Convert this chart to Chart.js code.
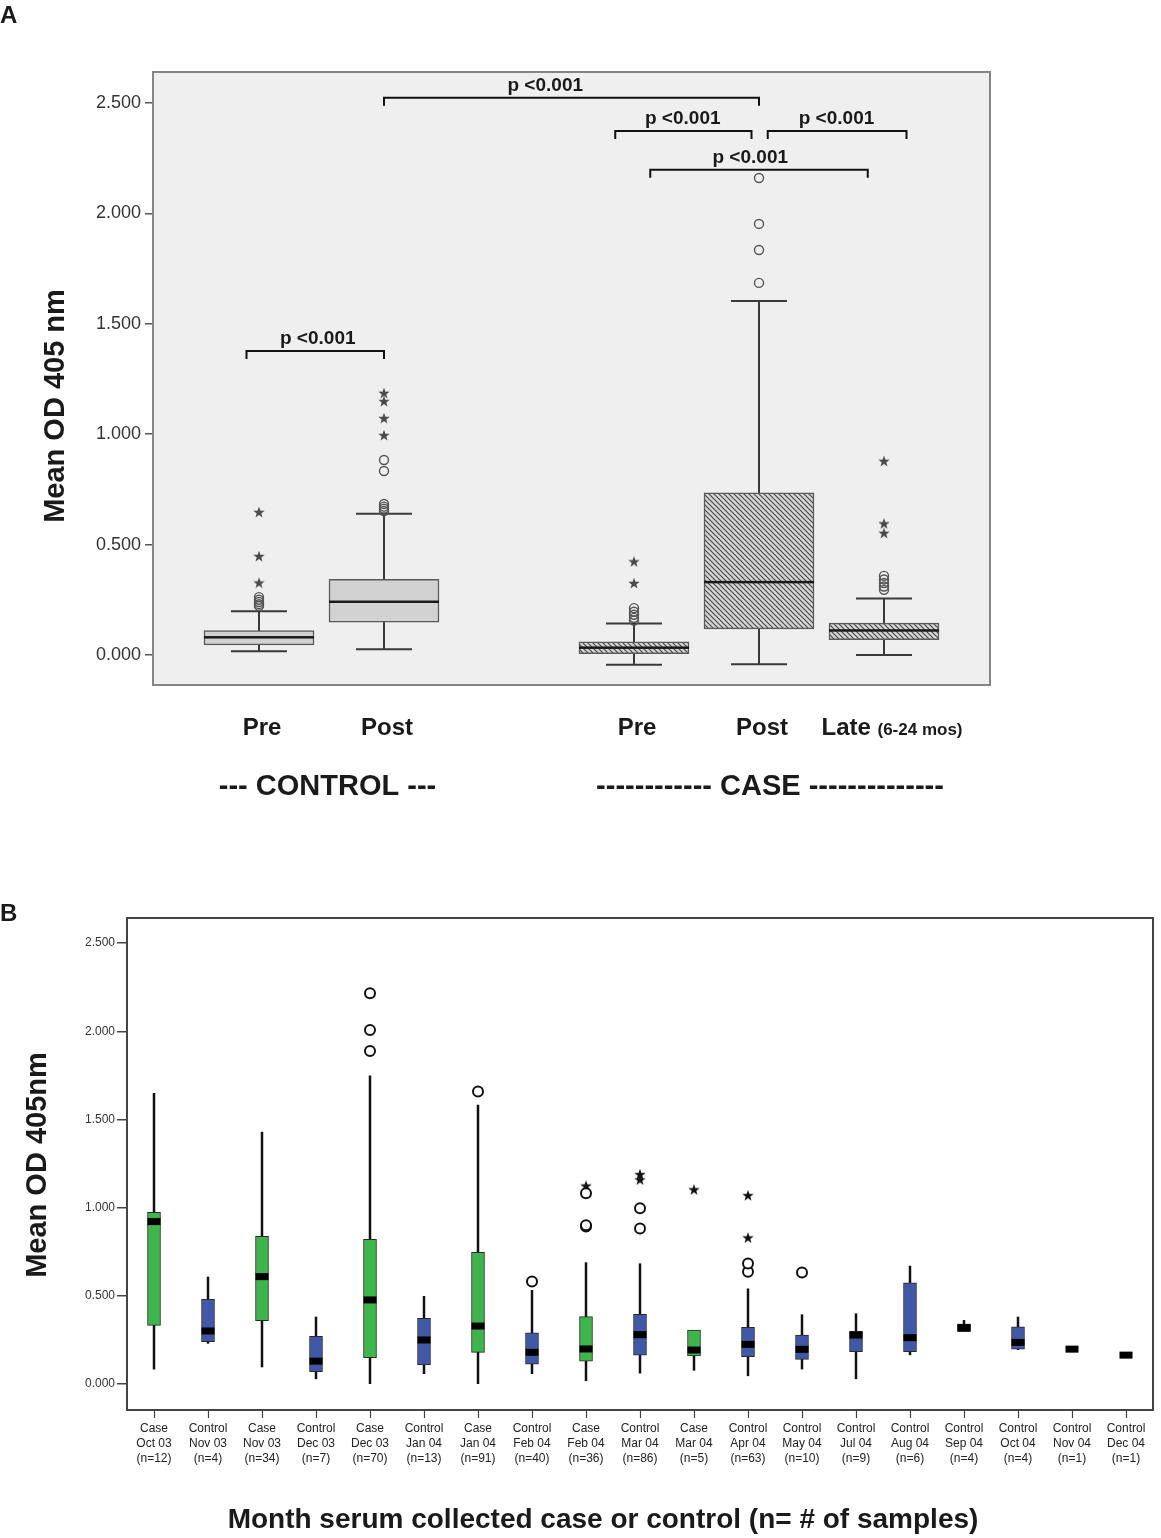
<!DOCTYPE html>
<html>
<head>
<meta charset="utf-8">
<script src="https://cdn.jsdelivr.net/npm/chart.js@4.4.1/dist/chart.umd.min.js"></script>
<style>
html, body { margin: 0; padding: 0; background: #fff; }
#wrapA { position: absolute; left: 0; top: 0; width: 1161px; height: 830px; }
#wrapB { position: absolute; left: 0; top: 830px; width: 1161px; height: 708px; }
</style>
</head>
<body>
<div id="wrapA"><canvas id="chartA" width="1161" height="830"></canvas></div>
<div id="wrapB"><canvas id="chartB" width="1161" height="708"></canvas></div>
<script>
var FONT = "'Liberation Sans', Arial, Helvetica, sans-serif";

// ---- panel A : mean OD, control vs case ----
var aSlots = ['Pre', 'Post', '', 'Pre', 'Post', 'Late'];
var aSlotIndex = [0, 1, 3, 4, 5];
var aGroups = ['control', 'control', 'case', 'case', 'case'];
var aLow = [0.017, 0.026, -0.044, -0.042, 0.000];
var aQ1 = [0.046, 0.148, 0.006, 0.118, 0.069];
var aMedian = [0.080, 0.241, 0.033, 0.330, 0.111];
var aQ3 = [0.111, 0.343, 0.059, 0.734, 0.144];
var aHigh = [0.198, 0.639, 0.143, 1.603, 0.256];
var aCircles = [
    [0.262, 0.250, 0.240, 0.230, 0.222],
    [0.684, 0.672, 0.662, 0.652, 0.883, 0.833],
    [0.212, 0.196, 0.182, 0.168, 0.156],
    [2.160, 1.952, 1.834, 1.685],
    [0.358, 0.342, 0.326, 0.310, 0.295]
];
var aStars = [
    [0.648, 0.448, 0.328],
    [1.187, 1.150, 1.073, 0.996],
    [0.424, 0.326],
    [],
    [0.879, 0.596, 0.553]
];
var aTicks = [0, 0.5, 1, 1.5, 2, 2.5];
var aBrackets = [
    { from: -0.1, to: 1.0, y: 1.377, at: 0.47, text: 'p <0.001' },
    { from: 1.0, to: 4.0, y: 2.523, at: 2.29, text: 'p <0.001' },
    { from: 2.85, to: 3.94, y: 2.373, at: 3.39, text: 'p <0.001' },
    { from: 4.07, to: 5.18, y: 2.373, at: 4.62, text: 'p <0.001' },
    { from: 3.13, to: 4.87, y: 2.197, at: 3.93, text: 'p <0.001' }
];

// ---- panel B : by month ----
var bLabels = [
    ['Case', 'Oct 03', '(n=12)'], ['Control', 'Nov 03', '(n=4)'], ['Case', 'Nov 03', '(n=34)'],
    ['Control', 'Dec 03', '(n=7)'], ['Case', 'Dec 03', '(n=70)'], ['Control', 'Jan 04', '(n=13)'],
    ['Case', 'Jan 04', '(n=91)'], ['Control', 'Feb 04', '(n=40)'], ['Case', 'Feb 04', '(n=36)'],
    ['Control', 'Mar 04', '(n=86)'], ['Case', 'Mar 04', '(n=5)'], ['Control', 'Apr 04', '(n=63)'],
    ['Control', 'May 04', '(n=10)'], ['Control', 'Jul 04', '(n=9)'], ['Control', 'Aug 04', '(n=6)'],
    ['Control', 'Sep 04', '(n=4)'], ['Control', 'Oct 04', '(n=4)'], ['Control', 'Nov 04', '(n=1)'],
    ['Control', 'Dec 04', '(n=1)']
];
var bLow = [0.083, 0.229, 0.095, 0.028, 0.000, 0.057, 0.000, 0.057, 0.017, 0.060, 0.076, 0.045, 0.083, 0.028, 0.164, 0.297, 0.193, 0.198, 0.164];
var bQ1 = [0.333, 0.240, 0.359, 0.070, 0.149, 0.108, 0.180, 0.113, 0.130, 0.164, 0.159, 0.155, 0.140, 0.183, 0.183, 0.297, 0.198, 0.198, 0.164];
var bMedian = [0.921, 0.301, 0.609, 0.130, 0.477, 0.250, 0.329, 0.180, 0.199, 0.280, 0.193, 0.225, 0.197, 0.278, 0.263, 0.321, 0.236, 0.198, 0.164];
var bQ3 = [0.974, 0.480, 0.838, 0.270, 0.821, 0.373, 0.747, 0.291, 0.382, 0.395, 0.306, 0.321, 0.278, 0.299, 0.574, 0.340, 0.325, 0.198, 0.164];
var bHigh = [1.650, 0.609, 1.430, 0.382, 1.749, 0.499, 1.583, 0.533, 0.690, 0.684, 0.306, 0.542, 0.395, 0.401, 0.671, 0.363, 0.382, 0.198, 0.164];
var bCircles = [[], [], [], [], [2.216, 2.007, 1.888], [], [1.658], [0.581], [0.893, 0.900, 1.082],
    [0.882, 0.996], [], [0.637, 0.684], [0.633], [], [], [], [], [], []];
var bStars = [[], [], [], [], [], [], [], [], [1.125], [1.190, 1.160], [1.104], [0.831, 1.071], [], [], [], [], [], [], []];
var bTicks = [0, 0.5, 1, 1.5, 2, 2.5];

function makeStar(size, color) {
    var c = document.createElement('canvas');
    c.width = size; c.height = size;
    var g = c.getContext('2d');
    g.fillStyle = color;
    g.beginPath();
    for (var i = 0; i < 10; i++) {
        var r = i % 2 ? size * 0.2 : size * 0.5;
        var ang = -Math.PI / 2 + i * Math.PI / 5;
        var px = size / 2 + r * Math.cos(ang), py = size / 2 + size * 0.06 + r * Math.sin(ang);
        if (i) g.lineTo(px, py); else g.moveTo(px, py);
    }
    g.closePath();
    g.fill();
    return c;
}

function makeHatch(ctx) {
    var c = document.createElement('canvas');
    c.width = 5; c.height = 5;
    var g = c.getContext('2d');
    g.fillStyle = '#d6d6d6';
    g.fillRect(0, 0, 5, 5);
    g.strokeStyle = '#4a4a4a';
    g.lineWidth = 1.2;
    g.beginPath();
    g.moveTo(-1, -1); g.lineTo(6, 6);
    g.moveTo(-1, 4); g.lineTo(1, 6);
    g.moveTo(4, -1); g.lineTo(6, 1);
    g.stroke();
    return ctx.createPattern(c, 'repeat');
}

function points(xs, lists) {
    var out = [];
    lists.forEach(function (vals, i) {
        vals.forEach(function (v) { out.push({ x: xs[i], y: v }); });
    });
    return out;
}

// whiskers under the boxes, medians on top
var boxParts = {
    id: 'boxParts',
    beforeDatasetsDraw: function (chart, args, o) {
        var ctx = chart.ctx, xs = chart.scales.x, ys = chart.scales.y;
        ctx.save();
        ctx.strokeStyle = o.stemColor;
        ctx.lineWidth = o.stemWidth;
        o.xs.forEach(function (xv, i) {
            var x = xs.getPixelForValue(xv);
            var yl = ys.getPixelForValue(o.low[i]), yh = ys.getPixelForValue(o.high[i]);
            ctx.beginPath();
            ctx.moveTo(x, yl); ctx.lineTo(x, yh);
            if (o.capWidth) {
                ctx.moveTo(x - o.capWidth / 2, yl); ctx.lineTo(x + o.capWidth / 2, yl);
                ctx.moveTo(x - o.capWidth / 2, yh); ctx.lineTo(x + o.capWidth / 2, yh);
            }
            ctx.stroke();
        });
        ctx.restore();
    },
    afterDatasetsDraw: function (chart, args, o) {
        var ctx = chart.ctx, xs = chart.scales.x, ys = chart.scales.y;
        ctx.save();
        ctx.fillStyle = o.medColor;
        o.xs.forEach(function (xv, i) {
            var x = xs.getPixelForValue(xv), y = ys.getPixelForValue(o.median[i]);
            ctx.fillRect(x - o.medWidth / 2, y - o.medHeight / 2, o.medWidth, o.medHeight);
        });
        ctx.restore();
    }
};

var frame = {
    id: 'frame',
    beforeDraw: function (chart, args, o) {
        var a = chart.chartArea, ctx = chart.ctx;
        ctx.save();
        ctx.fillStyle = o.fill;
        ctx.fillRect(a.left, a.top, a.right - a.left, a.bottom - a.top);
        ctx.restore();
    },
    afterDraw: function (chart, args, o) {
        var a = chart.chartArea, ctx = chart.ctx;
        ctx.save();
        ctx.strokeStyle = o.stroke;
        ctx.lineWidth = 2;
        ctx.strokeRect(a.left, a.top, a.right - a.left, a.bottom - a.top);
        ctx.restore();
    }
};

function text(ctx, s, x, y, font, align, rot) {
    ctx.save();
    ctx.font = font;
    ctx.fillStyle = '#1a1a1a';
    ctx.textAlign = align || 'center';
    ctx.textBaseline = 'middle';
    ctx.translate(x, y);
    if (rot) ctx.rotate(rot);
    ctx.fillText(s, 0, 0);
    ctx.restore();
}

var aText = {
    id: 'aText',
    afterDraw: function (chart) {
        var ctx = chart.ctx, xs = chart.scales.x, ys = chart.scales.y;
        text(ctx, 'A', 0, 16, 'bold 24px ' + FONT, 'left');
        text(ctx, 'Mean OD 405 nm', 56, 406, 'bold 29px ' + FONT, 'center', -Math.PI / 2);
        aSlots.forEach(function (s, i) {
            if (!s || s === 'Late') return;
            text(ctx, s, xs.getPixelForValue(i) + 3, 728, 'bold 24px ' + FONT);
        });
        // Late with the smaller note
        var lateX = xs.getPixelForValue(aSlots.indexOf('Late'));
        ctx.save();
        ctx.font = 'bold 24px ' + FONT;
        var w1 = ctx.measureText('Late ').width;
        ctx.font = 'bold 17px ' + FONT;
        var w2 = ctx.measureText('(6-24 mos)').width;
        ctx.restore();
        var start = lateX - (w1 + w2) / 2 + 8;
        text(ctx, 'Late', start, 728, 'bold 24px ' + FONT, 'left');
        text(ctx, '(6-24 mos)', start + w1, 730, 'bold 17px ' + FONT, 'left');
        text(ctx, '--- CONTROL ---', (xs.getPixelForValue(0) + xs.getPixelForValue(1)) / 2 + 6, 787, 'bold 29px ' + FONT);
        text(ctx, '------------ CASE --------------', xs.getPixelForValue(4) + 11, 787, 'bold 29px ' + FONT);

        ctx.save();
        ctx.strokeStyle = '#111';
        ctx.lineWidth = 2;
        aBrackets.forEach(function (b) {
            var x1 = xs.getPixelForValue(b.from), x2 = xs.getPixelForValue(b.to), y = ys.getPixelForValue(b.y);
            ctx.beginPath();
            ctx.moveTo(x1, y + 8); ctx.lineTo(x1, y); ctx.lineTo(x2, y); ctx.lineTo(x2, y + 8);
            ctx.stroke();
            text(ctx, b.text, xs.getPixelForValue(b.at), y - 12, 'bold 19px ' + FONT);
        });
        ctx.restore();
    }
};

var bText = {
    id: 'bText',
    afterDraw: function (chart) {
        var ctx = chart.ctx, xs = chart.scales.x, a = chart.chartArea;
        // small tick marks under each category
        ctx.save();
        ctx.strokeStyle = '#444';
        ctx.lineWidth = 1.2;
        bLabels.forEach(function (l, i) {
            var x = Math.round(xs.getPixelForValue(i)) + 0.5;
            ctx.beginPath();
            ctx.moveTo(x, a.bottom);
            ctx.lineTo(x, a.bottom + 8);
            ctx.stroke();
        });
        ctx.restore();
        text(ctx, 'B', 0, 84, 'bold 24px ' + FONT, 'left');
        text(ctx, 'Mean OD 405nm', 38, 335, 'bold 29px ' + FONT, 'center', -Math.PI / 2);
        text(ctx, 'Month serum collected case or control (n= # of samples)', 603, 690, 'bold 28px ' + FONT);
    }
};

Chart.defaults.font.family = FONT;
Chart.defaults.color = '#222';

// ---- chart A ----
var ctxA = document.getElementById('chartA').getContext('2d');
var hatch = makeHatch(ctxA);
var starA = makeStar(12, '#4a4a4a');
new Chart(ctxA, {
    type: 'bar',
    data: {
        datasets: [{
            type: 'line',
            data: points(aSlotIndex, aCircles),
            showLine: false,
            pointStyle: 'circle',
            pointRadius: 4.5,
            pointBackgroundColor: 'rgba(0,0,0,0)',
            pointBorderColor: '#555',
            pointBorderWidth: 1.4
        }, {
            type: 'line',
            data: points(aSlotIndex, aStars),
            showLine: false,
            pointStyle: starA,
            pointRadius: 6
        }, {
            data: aSlotIndex.map(function (x, i) { return { x: x, y: [aQ1[i], aQ3[i]] }; }),
            backgroundColor: aGroups.map(function (g) { return g === 'case' ? hatch : '#d2d2d2'; }),
            borderColor: '#5a5a5a',
            borderWidth: 1.5,
            borderSkipped: false,
            barThickness: 110
        }]
    },
    options: {
        responsive: false,
        animation: false,
        events: [],
        layout: { padding: { top: 72, right: 171, left: 0, bottom: 0 } },
        plugins: {
            legend: { display: false },
            tooltip: { enabled: false },
            frame: { fill: '#efefef', stroke: '#858585' },
            boxParts: {
                xs: aSlotIndex, low: aLow, high: aHigh, median: aMedian,
                stemColor: '#3a3a3a', stemWidth: 2, capWidth: 56,
                medColor: '#1a1a1a', medWidth: 110, medHeight: 2.5
            }
        },
        scales: {
            x: {
                type: 'linear',
                offset: false,
                min: -0.848,
                max: 5.848,
                ticks: { display: false },
                grid: { display: false },
                border: { display: false },
                afterFit: function (s) { s.height = 145; }
            },
            y: {
                min: -0.136,
                max: 2.64,
                afterBuildTicks: function (s) { s.ticks = aTicks.map(function (v) { return { value: v }; }); },
                ticks: {
                    callback: function (v) { return v.toFixed(3); },
                    font: { size: 18 },
                    color: '#333',
                    padding: 4
                },
                grid: { drawOnChartArea: false, tickLength: 8, color: '#555', lineWidth: 1.5 },
                border: { display: false },
                afterFit: function (s) { s.width = 153; }
            }
        }
    },
    plugins: [frame, boxParts, aText]
});

// ---- chart B ----
var ctxB = document.getElementById('chartB').getContext('2d');
var starB = makeStar(12, '#111');
var bIndex = bLabels.map(function (l, i) { return i; });
new Chart(ctxB, {
    type: 'bar',
    data: {
        datasets: [{
            type: 'line',
            data: points(bIndex, bCircles),
            showLine: false,
            pointStyle: 'circle',
            pointRadius: 5,
            pointBackgroundColor: '#fff',
            pointBorderColor: '#111',
            pointBorderWidth: 2
        }, {
            type: 'line',
            data: points(bIndex, bStars),
            showLine: false,
            pointStyle: starB,
            pointRadius: 6
        }, {
            data: bIndex.map(function (x, i) { return { x: x, y: [bQ1[i], bQ3[i]] }; }),
            backgroundColor: bLabels.map(function (l) { return l[0] === 'Case' ? '#3db54a' : '#4058a8'; }),
            borderColor: '#2a2a2a',
            borderWidth: 1,
            borderSkipped: false,
            barThickness: 13
        }]
    },
    options: {
        responsive: false,
        animation: false,
        events: [],
        layout: { padding: { top: 88, right: 8, left: 0, bottom: 0 } },
        plugins: {
            legend: { display: false },
            tooltip: { enabled: false },
            frame: { fill: '#ffffff', stroke: '#444' },
            boxParts: {
                xs: bIndex, low: bLow, high: bHigh, median: bMedian,
                stemColor: '#111', stemWidth: 2.5, capWidth: 0,
                medColor: '#000', medWidth: 13, medHeight: 7
            }
        },
        scales: {
            x: {
                type: 'linear',
                offset: false,
                min: -0.5,
                max: bLabels.length - 0.5,
                afterBuildTicks: function (s) { s.ticks = bIndex.map(function (v) { return { value: v }; }); },
                ticks: {
                    autoSkip: false,
                    maxRotation: 0,
                    callback: function (v) { return bLabels[v]; },
                    font: { size: 12, lineHeight: 1.25 },
                    color: '#222',
                    padding: 3
                },
                grid: { display: false },
                border: { display: false },
                afterFit: function (s) { s.height = 128; }
            },
            y: {
                min: -0.147,
                max: 2.642,
                afterBuildTicks: function (s) { s.ticks = bTicks.map(function (v) { return { value: v }; }); },
                ticks: {
                    callback: function (v) { return v.toFixed(3); },
                    font: { size: 12 },
                    color: '#333',
                    padding: 2
                },
                grid: { drawOnChartArea: false, tickLength: 10, color: '#444', lineWidth: 1.5 },
                border: { display: false },
                afterFit: function (s) { s.width = 127; }
            }
        }
    },
    plugins: [frame, boxParts, bText]
});
</script>
</body>
</html>
